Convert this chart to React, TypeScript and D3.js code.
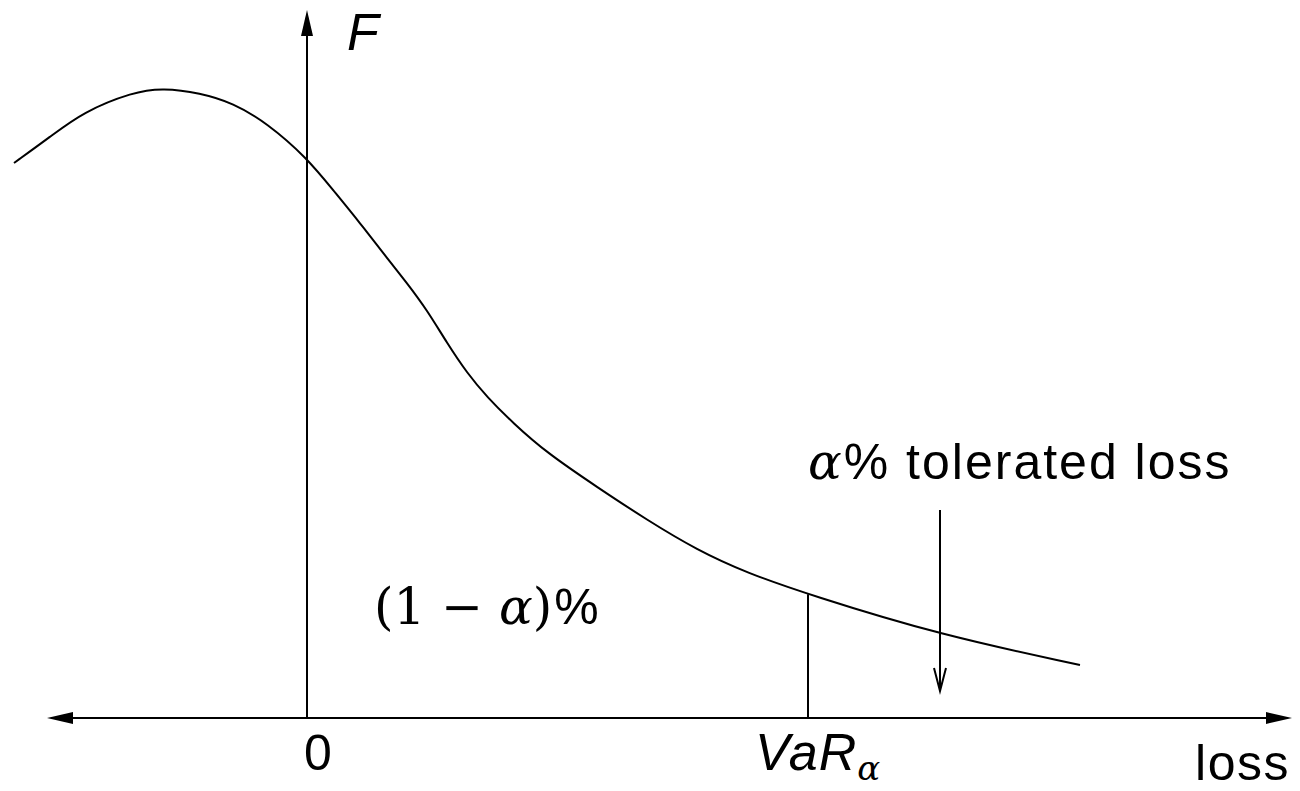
import React from "react";
import * as d3 from "d3";

// Curve of F over loss
const lossValues = [-5.86, -5.14, -4.48, -3.48, -2.88, -2.14, -1.48, -0.8, 0, 0.52, 1.06, 1.6, 2.0, 2.4, 2.8, 3.2, 3.6, 4.12, 4.8, 5.8, 6.8, 7.8, 8.8, 10.06, 12.66, 15.46];
const fValues = [5.55, 5.81, 6.06, 6.26, 6.3, 6.25, 6.15, 5.95, 5.6, 5.28, 4.95, 4.6, 4.35, 4.08, 3.75, 3.45, 3.21, 2.95, 2.65, 2.31, 1.98, 1.68, 1.45, 1.23, 0.83, 0.53];
const varLoss = [10.02];
const toleratedLoss = [12.66];
const axisRange = [-5.2, 19.7];

const W = 1300;
const H = 791;

export default function App() {
  const x = d3.scaleLinear().domain([0, 20]).range([307, 1307]);
  const y = d3.scaleLinear().domain([0, 7]).range([718, 18]);
  const pts: [number, number][] = lossValues.map((v, i) => [v, fValues[i]]);
  const line = d3
    .line<[number, number]>()
    .x((d) => x(d[0]))
    .y((d) => y(d[1]))
    .curve(d3.curveBasis);
  const interp = (v: number) => {
    for (let i = 0; i < lossValues.length - 1; i++) {
      if (v >= lossValues[i] && v <= lossValues[i + 1]) {
        const t = (v - lossValues[i]) / (lossValues[i + 1] - lossValues[i]);
        return fValues[i] + t * (fValues[i + 1] - fValues[i]);
      }
    }
    return 0;
  };
  const x0 = x(0);
  const yAxis = y(0);
  const xl = x(axisRange[0]);
  const xr = x(axisRange[1]);
  const vx = x(varLoss[0]);
  const tx = x(toleratedLoss[0]);
  const sans = "'Liberation Sans', Arial, sans-serif";
  const serif = "'DejaVu Serif', serif";
  return (
    <svg width={W} height={H} style={{ position: "absolute", left: 0, top: 0, background: "#fff" }}>
      {/* x axis */}
      <line x1={xl + 20} y1={yAxis} x2={xr - 20} y2={yAxis} stroke="#000" strokeWidth={2} />
      <path d={`M${xl},${yAxis} L${xl + 26},${yAxis - 6} L${xl + 26},${yAxis + 6} Z`} fill="#000" />
      <path d={`M${xr},${yAxis} L${xr - 26},${yAxis - 6} L${xr - 26},${yAxis + 6} Z`} fill="#000" />
      {/* y axis */}
      <line x1={x0} y1={yAxis} x2={x0} y2={30} stroke="#000" strokeWidth={2} />
      <path d={`M${x0},10 L${x0 - 6},36 L${x0 + 6},36 Z`} fill="#000" />
      {/* curve */}
      <path d={line(pts) || ""} fill="none" stroke="#000" strokeWidth={2} />
      {/* VaR line */}
      <line x1={vx} y1={yAxis} x2={vx} y2={y(interp(varLoss[0]))} stroke="#000" strokeWidth={2} />
      {/* tolerated arrow */}
      <line x1={tx} y1={510} x2={tx} y2={690} stroke="#000" strokeWidth={2} />
      <path d={`M${tx - 6},668 L${tx},691 L${tx + 6},668`} fill="none" stroke="#000" strokeWidth={2} />
      {/* labels */}
      <text x={347} y={50} fontFamily={sans} fontStyle="italic" fontSize={52}>F</text>
      <text x={318} y={770} fontFamily={sans} fontSize={50} textAnchor="middle">0</text>
      <text x={755} y={770} fontFamily={sans} fontSize={52} letterSpacing={1}>
        <tspan fontStyle="italic">VaR</tspan>
        <tspan fontFamily={serif} fontStyle="italic" fontSize={34} dy={10}>α</tspan>
      </text>
      <text x={1290} y={780} fontFamily={sans} fontSize={50} textAnchor="end" letterSpacing={1.5}>loss</text>
      <text x={808} y={479} fontFamily={sans} fontSize={50} letterSpacing={2}>
        <tspan fontFamily={serif} fontStyle="italic">α</tspan>
        <tspan>% tolerated loss</tspan>
      </text>
      <text x={374} y={624} fontFamily={serif} fontSize={50}>
        <tspan>(1 − </tspan>
        <tspan fontStyle="italic">α</tspan>
        <tspan>)</tspan>
        <tspan fontFamily={sans} dx={2}>%</tspan>
      </text>
    </svg>
  );
}
